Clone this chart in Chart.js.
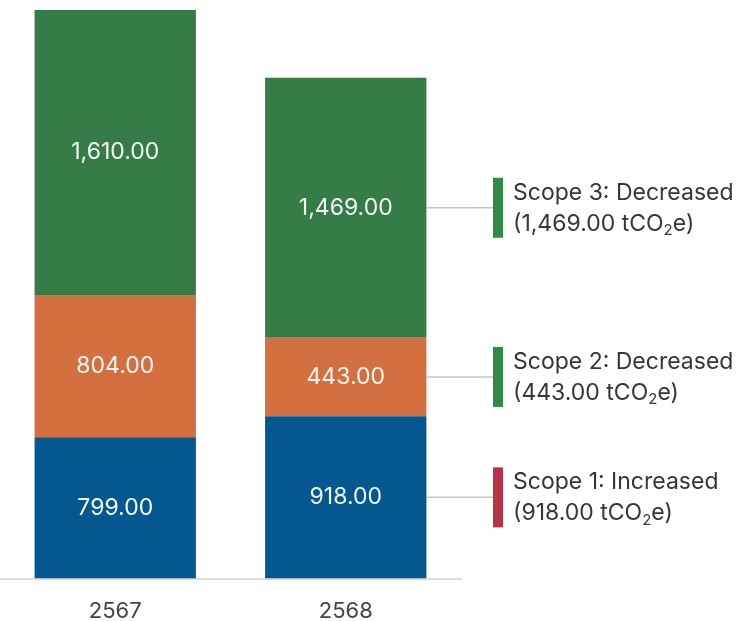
<!DOCTYPE html>
<html>
<head>
<meta charset="utf-8">
<script src="https://cdn.jsdelivr.net/npm/chart.js@4.4.1/dist/chart.umd.min.js"></script>
<style>
  html, body { margin: 0; padding: 0; background: #fff; }
  #wrap { width: 749px; height: 621px; position: relative; }
</style>
</head>
<body>
<div id="wrap"><canvas id="emissions"></canvas></div>
<script>
// years (พ.ศ.) and emissions per scope, tCO2e
const years = ["2567", "2568"];
const scope1 = [799, 918];
const scope2 = [804, 443];
const scope3 = [1610, 1469];
const scopeNames = ["Scope 1", "Scope 2", "Scope 3"];

const FONT = "Inter, 'Noto Sans', sans-serif";
const fmt = v => v.toLocaleString("en-US", { minimumFractionDigits: 2, maximumFractionDigits: 2 });

// white value text in the middle of each segment
const segmentLabels = {
  id: "segmentLabels",
  afterDatasetsDraw(chart) {
    const ctx = chart.ctx;
    ctx.save();
    ctx.fillStyle = "#f4f8f4";
    ctx.font = "23px " + FONT;
    ctx.textAlign = "center";
    ctx.textBaseline = "middle";
    chart.data.datasets.forEach((ds, i) => {
      chart.getDatasetMeta(i).data.forEach((bar, j) => {
        const cy = (bar.y + bar.base) / 2;
        ctx.fillText(fmt(ds.data[j]), bar.x, cy);
      });
    });
    ctx.restore();
  }
};

// callouts for the latest year on the right side
const callouts = {
  id: "callouts",
  afterDatasetsDraw(chart) {
    const ctx = chart.ctx;
    const last = years.length - 1;
    const markX = 493;
    ctx.save();
    chart.data.datasets.forEach((ds, i) => {
      const bar = chart.getDatasetMeta(i).data[last];
      const cy = (bar.y + bar.base) / 2;
      const now = ds.data[last], prev = ds.data[last - 1];
      const up = now > prev;

      ctx.strokeStyle = "#c4c4c4";
      ctx.lineWidth = 1.5;
      ctx.beginPath();
      ctx.moveTo(bar.x + bar.width / 2, cy);
      ctx.lineTo(markX, cy);
      ctx.stroke();

      ctx.fillStyle = up ? "#b8334a" : "#2f8a45";
      ctx.fillRect(markX, cy - 30, 10, 60);

      ctx.fillStyle = "#363636";
      ctx.textAlign = "left";
      ctx.textBaseline = "middle";
      ctx.font = "23px " + FONT;
      const tx = 513;
      ctx.fillText(scopeNames[i] + ": " + (up ? "Increased" : "Decreased"), tx, cy - 15);

      let x = tx;
      const part1 = "(" + fmt(now) + " tCO";
      ctx.fillText(part1, x, cy + 16);
      x += ctx.measureText(part1).width;
      ctx.font = "15px " + FONT;
      ctx.fillText("2", x, cy + 23);
      x += ctx.measureText("2").width;
      ctx.font = "23px " + FONT;
      ctx.fillText("e)", x, cy + 16);
    });
    ctx.restore();
  }
};

const totalFirst = scope1[0] + scope2[0] + scope3[0];

new Chart(document.getElementById("emissions").getContext("2d"), {
  type: "bar",
  data: {
    labels: years,
    datasets: [
      { label: scopeNames[0], data: scope1, backgroundColor: "#04578f" },
      { label: scopeNames[1], data: scope2, backgroundColor: "#d4703f" },
      { label: scopeNames[2], data: scope3, backgroundColor: "#367c46" }
    ]
  },
  options: {
    responsive: true,
    maintainAspectRatio: false,
    animation: false,
    barPercentage: 0.7,
    categoryPercentage: 1,
    layout: { padding: { top: 10, right: 288, bottom: -24, left: 0 } },
    plugins: {
      legend: { display: false },
      tooltip: { enabled: false }
    },
    scales: {
      x: {
        stacked: true,
        grid: { display: false, drawTicks: false },
        border: { display: true, color: "#dddddd", width: 2 },
        ticks: { color: "#444444", font: { family: FONT, size: 22 }, padding: 20 }
      },
      y: {
        stacked: true,
        display: false,
        min: 0,
        max: totalFirst
      }
    }
  },
  plugins: [segmentLabels, callouts]
});
</script>
</body>
</html>
